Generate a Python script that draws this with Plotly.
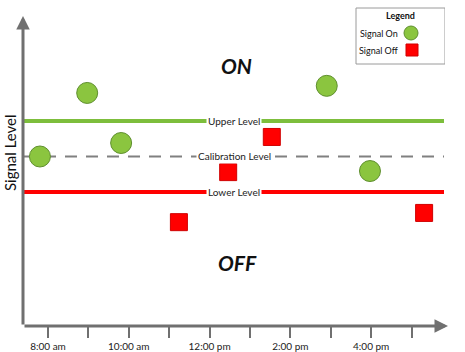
import plotly.graph_objects as go

# ---- data ----
hour_ticks = [8, 9, 10, 11, 12, 13, 14, 15, 16, 17]
tick_labels = ["8:00 am", "", "10:00 am", "", "12:00 pm", "", "2:00 pm", "", "4:00 pm", ""]

on_times = [7.80, 8.97, 9.81, 14.90, 15.97]
on_levels = [2.00, 3.79, 2.38, 3.99, 1.59]

off_times = [11.24, 12.46, 13.54, 17.31]
off_levels = [0.15, 1.56, 2.55, 0.41]

level_names = ["Upper Level", "Calibration Level", "Lower Level"]
level_values = [3.0, 2.0, 1.0]

# ---- geometry ----
W, H = 465, 352
ML, MR, MT, MB = 23, 20, 0, 26
X0, X1 = 7.381, 17.827
Y0, Y1 = -2.775, 6.408
pw, ph = W - ML - MR, H - MT - MB

def dx(px):
    return X0 + (px - ML) / pw * (X1 - X0)

def dy(py):
    return Y1 - (py - MT) / ph * (Y1 - Y0)

AX = "#707070"
GREEN = "#8BC53F"
GREEN_LINE = "#7DBE3C"
RED = "#FF0000"
FONT = "Lato, 'Open Sans', sans-serif"
TXT = "#222222"

fig = go.Figure()

line_styles = [dict(color=GREEN_LINE, width=4),
               dict(color="#808080", width=2, dash="12px,9px"),
               dict(color=RED, width=4)]
line_end = dx(444)
for name, val, st in zip(level_names, level_values, line_styles):
    fig.add_trace(go.Scatter(x=[X0, line_end], y=[val, val], mode="lines",
                             line=st, hoverinfo="skip", showlegend=False))

fig.add_trace(go.Scatter(x=on_times, y=on_levels, mode="markers", name="Signal On",
                         marker=dict(symbol="circle", size=21, color=GREEN,
                                     line=dict(color="#5F8F2E", width=1)),
                         showlegend=False, cliponaxis=False))
fig.add_trace(go.Scatter(x=off_times, y=off_levels, mode="markers", name="Signal Off",
                         marker=dict(symbol="square", size=17, color=RED,
                                     line=dict(color="#D00000", width=1)),
                         showlegend=False, cliponaxis=False))

annotations = []
# level labels
for name, val in zip(level_names, level_values):
    annotations.append(dict(x=dx(234), y=val, text=name, showarrow=False,
                            font=dict(family=FONT, size=10, color=TXT),
                            bgcolor="white", borderpad=1))

# ON / OFF
annotations.append(dict(x=dx(236), y=dy(65), text="<b><i>ON</i></b>", showarrow=False,
                        font=dict(family=FONT, size=21, color="#111111")))
annotations.append(dict(x=dx(237), y=dy(262), text="<b><i>OFF</i></b>", showarrow=False,
                        font=dict(family=FONT, size=21, color="#111111")))

# axis arrows
annotations.append(dict(x=dx(448), y=Y0, ax=X0, ay=Y0, xref="x", yref="y",
                        axref="x", ayref="y", text="", showarrow=True,
                        arrowhead=2, arrowsize=0.9, arrowwidth=3, arrowcolor=AX))
annotations.append(dict(x=X0, y=dy(16), ax=X0, ay=Y0, xref="x", yref="y",
                        axref="x", ayref="y", text="", showarrow=True,
                        arrowhead=2, arrowsize=0.9, arrowwidth=3, arrowcolor=AX))

# y title
annotations.append(dict(x=(10 - ML) / pw, y=(H - MB - 153) / ph, xref="paper", yref="paper",
                        xanchor="center", yanchor="middle",
                        text="Signal Level", textangle=-90, showarrow=False,
                        font=dict(family=FONT, size=15, color="#111111")))

# legend box contents
annotations.append(dict(x=dx(400), y=dy(15), text="<b>Legend</b>", showarrow=False,
                        font=dict(family=FONT, size=9, color="#111111")))
annotations.append(dict(x=dx(379), y=dy(33), text="Signal On", showarrow=False,
                        font=dict(family=FONT, size=9, color="#111111")))
annotations.append(dict(x=dx(378), y=dy(50), text="Signal Off", showarrow=False,
                        font=dict(family=FONT, size=9, color="#111111")))

shapes = [dict(type="rect", xref="x", yref="y", x0=dx(356), x1=dx(445),
               y0=dy(64), y1=dy(8), line=dict(color="#9A9A9A", width=1),
               fillcolor="white", layer="below")]

fig.add_trace(go.Scatter(x=[dx(411)], y=[dy(33)], mode="markers",
                         marker=dict(symbol="circle", size=14, color=GREEN,
                                     line=dict(color="#5F8F2E", width=1)),
                         showlegend=False, hoverinfo="skip", cliponaxis=False))
fig.add_trace(go.Scatter(x=[dx(412)], y=[dy(50)], mode="markers",
                         marker=dict(symbol="square", size=12, color=RED,
                                     line=dict(color="#D00000", width=1)),
                         showlegend=False, hoverinfo="skip", cliponaxis=False))

fig.update_layout(
    width=W, height=H,
    margin=dict(l=ML, r=MR, t=MT, b=MB),
    paper_bgcolor="white", plot_bgcolor="white",
    showlegend=False,
    annotations=annotations,
    shapes=shapes,
    xaxis=dict(range=[X0, X1], tickvals=hour_ticks, ticktext=tick_labels,
               ticks="outside", ticklen=11, tickwidth=2, tickcolor=AX,
               showgrid=False, zeroline=False, showline=False,
               tickfont=dict(family=FONT, size=10, color=TXT), fixedrange=True),
    yaxis=dict(range=[Y0, Y1], showticklabels=False, ticks="", showgrid=False,
               zeroline=False, showline=False, fixedrange=True),
)

fig.write_html("out.html")
